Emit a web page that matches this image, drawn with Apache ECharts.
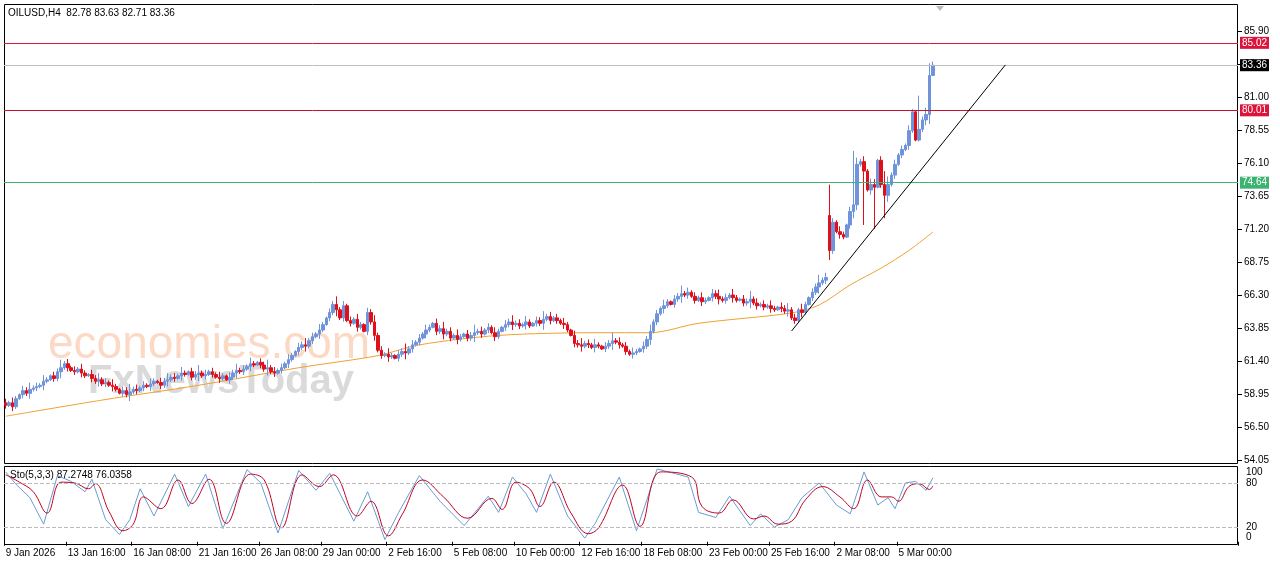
<!DOCTYPE html>
<html><head><meta charset="utf-8">
<script src="https://cdn.jsdelivr.net/npm/echarts@6/dist/echarts.min.js"></script>
<style>html,body{margin:0;padding:0;background:#fff}#c{width:1280px;height:567px}</style>
</head><body><div id="c"></div>
<script>
const closes = [
58.1,58.3,58.0,58.6,58.9,59.2,59.0,59.3,59.4,59.5,
59.6,59.9,60.0,60.3,60.1,60.6,60.9,61.2,60.9,60.7,
60.6,60.8,60.5,60.3,60.4,60.1,59.9,60.0,59.7,59.8,
59.6,59.5,59.3,59.0,59.2,58.9,59.1,59.3,59.2,59.4,
59.6,59.5,59.7,59.9,59.8,59.6,59.9,60.0,60.2,60.1,
60.3,60.5,60.4,60.6,60.2,60.4,60.5,60.3,60.4,60.6,
60.4,60.2,60.1,60.3,60.0,60.2,60.5,60.7,60.6,60.8,
61.0,61.2,61.1,61.3,61.1,60.8,60.9,60.6,60.5,60.7,
60.9,61.2,61.5,61.8,62.1,62.4,62.6,62.5,62.9,63.2,
63.4,63.7,64.1,64.6,65.0,65.6,65.2,64.6,65.5,64.4,
64.2,64.5,63.9,64.1,63.6,65.0,64.3,63.3,62.2,61.8,
61.9,61.7,61.8,61.6,61.9,62.1,62.0,62.3,62.6,62.8,
63.1,63.4,63.7,63.9,64.2,63.6,63.8,63.4,63.6,63.1,
63.3,63.0,63.2,63.4,63.1,63.3,63.5,63.6,63.4,63.7,
63.9,63.5,63.2,63.6,63.9,64.1,64.3,64.1,64.2,64.0,
64.1,64.3,64.0,64.2,64.4,64.2,64.5,64.7,64.4,64.6,
64.4,64.2,64.1,63.7,63.3,62.7,62.6,62.5,62.7,62.6,
62.4,62.6,62.5,62.3,62.5,62.7,62.9,62.8,62.6,62.5,
62.1,61.9,62.0,62.1,62.3,62.5,63.0,63.6,64.3,64.9,
65.3,65.5,65.8,65.6,66.0,66.2,66.4,66.3,66.5,66.2,
65.9,66.1,65.8,65.9,66.1,66.4,66.2,66.0,65.9,66.1,
66.3,66.1,65.9,66.0,65.7,65.8,66.0,65.7,65.5,65.6,
65.4,65.5,65.3,65.2,65.4,65.3,65.1,65.2,64.6,64.4,
65.2,65.0,65.6,66.1,66.5,66.9,67.2,67.4,67.6,69.6,
71.7,71.0,70.8,70.6,71.5,72.5,73.0,76.0,76.2,75.5,
74.1,74.5,74.3,76.3,74.5,73.7,74.5,75.2,76.0,76.7,
77.1,77.4,78.5,79.9,77.8,78.6,79.3,79.7,82.6,83.36];
const firstOpen = 58.3;
const gapOpens = {239: 72.2};
const wicks = [0.3,0.15,0.4,0.2,0.1,0.35,0.25,0.5,0.2,0.3,0.15,0.45,0.2,0.1,0.3,0.25,0.6,0.2,0.35,0.15];
const bigWicks = {239:[74.5,68.9], 246:[77.0,72.0], 249:[76.6,71.5], 265:[81.1,77.7], 269:[83.63,82.71], 268:[83.5,79.0], 255:[75.5,72.0], 252:[74.9,71.2]};
const maPoints = [[0,57.3],[28,58.5],[56,59.6],[85,60.9],[108,61.8],[120,62.6],[143,63.3],[172,63.5],[187,63.5],[201,64.2],[228,64.97],[236,65.56],[245,67.05],[254,68.3],[262,69.6],[269,70.98]];
const tickLabels = {0:'9 Jan 2026',18:'13 Jan 16:00',37:'16 Jan 08:00',56:'21 Jan 16:00',74:'26 Jan 08:00',92:'29 Jan 00:00',111:'2 Feb 16:00',130:'5 Feb 08:00',148:'10 Feb 00:00',167:'12 Feb 16:00',185:'18 Feb 08:00',204:'23 Feb 00:00',222:'25 Feb 16:00',241:'2 Mar 08:00',259:'5 Mar 00:00'};
const stochSignal = [[0,91],[4,81],[8,68],[12,39],[16,81],[20,80],[24,72],[26,79],[30,41],[34,15],[37,24],[40,61],[45,45],[50,84],[54,52],[59,85],[64,25],[71,92],[75,84],[80,19],[86,91],[91,75],[95,91],[102,35],[106,55],[111,8],[115,37],[121,84],[127,61],[134,32],[141,59],[144,44],[148,81],[152,72],[155,48],[159,81],[164,39],[169,11],[172,19],[179,77],[184,21],[190,95],[199,88],[202,48],[207,39],[211,57],[217,31],[220,35],[224,24],[228,28],[232,57],[237,75],[242,61],[246,45],[250,84],[254,61],[257,61],[259,55],[262,75],[265,79],[268,71],[269,76]];
const stochMain = [[0,95],[3,78],[7,60],[11,24],[15,90],[19,82],[23,68],[25,85],[29,30],[33,10],[36,30],[39,72],[43,35],[49,92],[53,48],[58,92],[63,18],[70,98],[74,80],[79,12],[85,97],[90,70],[94,93],[101,28],[105,68],[110,3],[114,40],[120,90],[126,55],[133,22],[140,62],[143,40],[147,88],[151,65],[154,40],[158,92],[163,35],[168,5],[171,25],[178,88],[183,15],[189,99],[198,88],[201,40],[206,33],[210,62],[216,22],[219,38],[223,20],[227,30],[231,60],[236,80],[241,50],[245,38],[249,95],[253,50],[256,60],[258,45],[261,80],[264,82],[267,70],[269,87]];
const levels = [{v:85.02,c:'#dc143c',bg:'#dc143c'},{v:83.36,c:'#c0c0c0',bg:'#000'},{v:80.01,c:'#c8102e',bg:'#dc143c'},{v:74.64,c:'#3cb371',bg:'#3cb371'}];

const N = 358;
const cats = Array.from({length:N},(_,i)=>String(i));
const ohlc = closes.map((c,i)=>{
  const o = gapOpens[i]!==undefined ? gapOpens[i] : (i===0 ? firstOpen : closes[i-1]);
  const w = wicks[i%wicks.length];
  let h = Math.max(o,c)+w, l = Math.min(o,c)-w*0.8;
  if (bigWicks[i]) { h = bigWicks[i][0]; l = bigWicks[i][1]; }
  return [o,c,l,h];
});
const chart = echarts.init(document.getElementById('c'));
const FONT = '"Liberation Sans", Arial, sans-serif';
chart.setOption({
  animation:false,
  grid:[{left:4,right:42,top:31,height:429},{left:4,right:42,top:466,height:78}],
  xAxis:[
    {type:'category',data:cats,gridIndex:0,axisLine:{show:false},axisTick:{show:false},axisLabel:{show:false}},
    {type:'category',data:cats,gridIndex:1,axisLine:{show:false},
     axisTick:{show:true,interval:(i)=>tickLabels[i]!==undefined,lineStyle:{color:'#000'},length:4},
     axisLabel:{interval:(i)=>tickLabels[i]!==undefined,formatter:(v)=>tickLabels[+v]||'',align:'left',margin:4,fontSize:10,color:'#000',fontFamily:FONT}}
  ],
  yAxis:[
    {type:'value',gridIndex:0,min:54.05,max:85.90,interval:2.45,position:'right',splitLine:{show:false},axisLine:{show:false},
     axisTick:{show:true,inside:false,length:4,lineStyle:{color:'#000'}},axisLabel:{formatter:(v)=>v.toFixed(2),fontSize:10,color:'#000',margin:6,fontFamily:FONT}},
    {type:'value',gridIndex:1,min:-3,max:103,position:'right',splitLine:{show:false},axisLine:{show:false},axisTick:{show:false},
     axisLabel:{customValues:[6,20,80,94],formatter:(v)=>({6:'0',20:'20',80:'80',94:'100'})[v],fontSize:10,color:'#000',margin:8,fontFamily:FONT}}
  ],
  graphic:[
    {type:'rect',shape:{x:4.5,y:4.5,width:1233,height:459},style:{fill:'none',stroke:'#000',lineWidth:1},z:-1},
    {type:'rect',shape:{x:4.5,y:466.5,width:1233,height:78},style:{fill:'none',stroke:'#000',lineWidth:1},z:-1},
    {type:'text',left:8,top:8,style:{text:'OILUSD,H4  82.78 83.63 82.71 83.36',font:'10px '+FONT,fill:'#000'}},
    {type:'text',left:48,top:322,style:{text:'economies.com',font:'46px '+FONT,fill:'rgba(245,160,110,0.4)'},z:0},
    {type:'text',left:88,top:362,style:{text:'FxNewsToday',font:'bold 40px '+FONT,fill:'rgba(150,150,150,0.35)'},z:0},
    {type:'text',left:10,top:470,style:{text:'Sto(5,3,3) 87.2748 76.0358',font:'10px '+FONT,fill:'#000'}},
    {type:'polygon',shape:{points:[[936,6],[944,6],[940,11]]},style:{fill:'#bbb'}}
  ],
  series:[
    {type:'candlestick',xAxisIndex:0,yAxisIndex:0,data:ohlc,barWidth:3,
     itemStyle:{color:'#6f94dc',color0:'#e0101a',borderColor:'#6f94dc',borderColor0:'#e0101a',borderWidth:1},
     markLine:{symbol:'none',silent:true,animation:false,
       data:levels.map(l=>({yAxis:l.v,lineStyle:{color:l.c,type:'solid',width:1},
         label:{show:true,position:'end',formatter:l.v.toFixed(2),color:'#fff',backgroundColor:l.bg,padding:[1,2],fontSize:10,distance:2,fontFamily:FONT}}))
       .concat([[{coord:['228',63.63],lineStyle:{color:'#000',type:'solid',width:1},label:{show:false}},{coord:['290',83.38]}]])}},
    {type:'line',xAxisIndex:0,yAxisIndex:0,data:maPoints,smooth:0.3,showSymbol:false,lineStyle:{color:'#f0a030',width:1},z:1},
    {type:'line',xAxisIndex:1,yAxisIndex:1,data:stochMain,showSymbol:false,lineStyle:{color:'#6b9bd1',width:1},
     markLine:{symbol:'none',silent:true,label:{show:false},lineStyle:{color:'#bbb',type:'dashed',width:1},data:[{yAxis:80},{yAxis:20}]}},
    {type:'line',xAxisIndex:1,yAxisIndex:1,data:stochSignal,smooth:0.4,showSymbol:false,lineStyle:{color:'#c00020',width:1}}
  ]
});
</script></body></html>
